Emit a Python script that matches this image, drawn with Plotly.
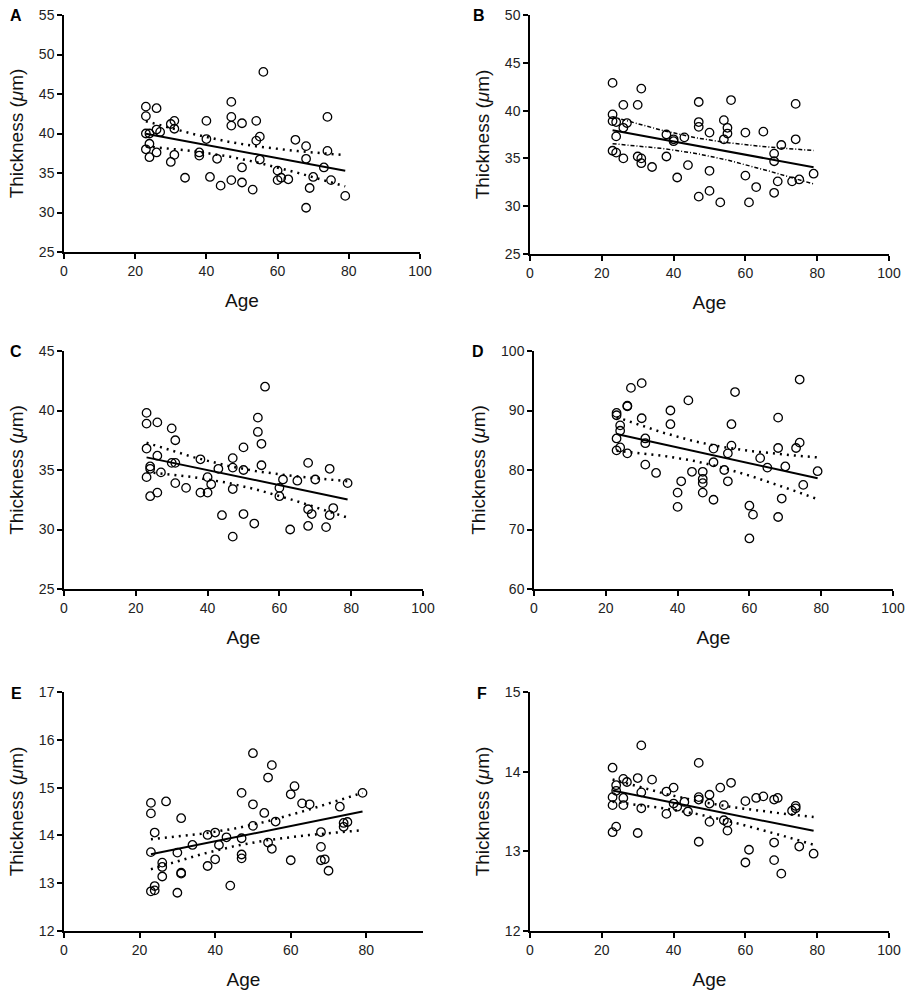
import numpy as np
import plotly.graph_objects as go

ages = [23, 23, 23, 23, 24, 24, 24, 26, 26, 26, 27, 30, 30, 31, 31, 31, 34, 38, 38, 40, 40, 41, 43, 44,
        47, 47, 47, 47, 50, 50, 50, 53, 54, 54, 55, 55, 56, 60, 60, 61, 63, 65, 68, 68, 68, 69, 70, 73,
        74, 74, 75, 79]

thick_A = [43.4, 42.2, 40.0, 38.0, 40.0, 38.7, 37.0, 43.2, 40.5, 37.6, 40.2, 41.2, 36.4, 41.6, 40.6, 37.3,
           34.4, 37.6, 37.2, 41.6, 39.3, 34.5, 36.8, 33.4, 44.0, 42.1, 41.0, 34.1, 41.3, 35.7, 33.8, 32.9,
           41.6, 39.1, 39.6, 36.7, 47.8, 35.3, 34.1, 34.4, 34.2, 39.2, 38.4, 36.8, 30.6, 33.1, 34.5, 35.7,
           42.1, 37.8, 34.1, 32.1]
thick_B = [42.9, 39.6, 38.9, 35.8, 38.8, 37.3, 35.6, 40.6, 38.2, 35.0, 38.7, 40.6, 35.2, 42.3, 35.0, 34.5,
           34.1, 37.5, 35.2, 37.0, 36.8, 33.0, 37.2, 34.3, 40.9, 38.8, 38.3, 31.0, 37.7, 33.7, 31.6, 30.4,
           39.0, 37.0, 38.2, 37.6, 41.1, 37.7, 33.2, 30.4, 32.0, 37.8, 35.5, 34.7, 31.4, 32.6, 36.4, 32.6,
           40.7, 37.0, 32.8, 33.4]
thick_C = [39.8, 38.9, 36.8, 34.4, 35.3, 35.1, 32.8, 39.0, 36.2, 33.1, 34.8, 38.5, 35.6, 37.5, 35.6, 33.9,
           33.5, 35.9, 33.1, 34.4, 33.1, 33.8, 35.1, 31.2, 36.0, 35.2, 33.4, 29.4, 36.9, 35.0, 31.3, 30.5,
           39.4, 38.2, 37.2, 35.4, 42.0, 33.5, 32.8, 34.2, 30.0, 34.1, 35.6, 31.7, 30.3, 31.3, 34.2, 30.2,
           35.1, 31.2, 31.8, 33.9]
thick_D = [89.6, 89.2, 85.3, 83.3, 87.5, 86.6, 83.8, 90.8, 90.7, 82.8, 93.8, 94.6, 88.7, 85.3, 84.5, 80.9,
           79.5, 90.0, 87.7, 76.2, 73.8, 78.1, 91.7, 79.7, 79.7, 78.5, 77.8, 76.2, 83.6, 81.3, 75.0, 80.0,
           82.8, 78.1, 87.7, 84.1, 93.1, 74.0, 68.5, 72.5, 82.0, 80.4, 88.8, 83.7, 72.1, 75.2, 80.6, 83.7,
           95.2, 84.6, 77.5, 79.8]
thick_E = [14.68, 14.46, 13.65, 12.83, 14.06, 12.94, 12.85, 13.43, 13.34, 13.14, 14.71, 13.64, 12.80,
           14.36, 13.22, 13.20, 13.80, 14.01, 13.36, 14.06, 13.50, 13.80, 13.96, 12.95, 14.89, 13.94,
           13.60, 13.52, 15.72, 14.65, 14.20, 14.47, 15.21, 13.85, 15.47, 13.72, 14.29, 14.86, 13.48,
           15.03, 14.67, 14.65, 14.07, 13.76, 13.48, 13.50, 13.26, 14.60, 14.26, 14.18, 14.28, 14.89]
thick_F = [14.05, 13.68, 13.58, 13.24, 13.83, 13.76, 13.31, 13.91, 13.67, 13.58, 13.87, 13.92, 13.23,
           14.33, 13.74, 13.54, 13.90, 13.75, 13.47, 13.80, 13.60, 13.56, 13.62, 13.50, 14.11, 13.68,
           13.65, 13.12, 13.71, 13.60, 13.37, 13.80, 13.58, 13.39, 13.36, 13.26, 13.86, 13.63, 12.86,
           13.02, 13.67, 13.69, 13.65, 13.11, 12.89, 13.67, 12.72, 13.51, 13.57, 13.54, 13.06, 12.97]

panel_labels = ["A", "B", "C", "D", "E", "F"]
series = [thick_A, thick_B, thick_C, thick_D, thick_E, thick_F]
y_ranges = [(25, 55), (25, 50), (25, 45), (60, 100), (12, 17), (12, 15)]
y_dtick = [5, 5, 5, 10, 1, 1]
x_ranges = [(0, 100), (0, 100), (0, 100), (0, 100), (0, 95), (0, 100)]

W, H = 922, 1000
# plot-area boxes in pixels: (left, right, top, bottom)
boxes = [(64, 420, 15, 252), (530, 889, 15, 254),
         (64, 423, 351, 589), (534, 893, 351, 589),
         (64, 423, 692, 931), (530, 889, 692, 931)]
label_pos = [(16, 15), (479, 15), (16, 351), (478, 351), (16, 693), (482, 693)]
ci_styles = [("2px,5px", 2.5), ("4px,2px,1px,2px", 1.5), ("2px,5px", 2.5),
             ("2px,5px", 2.5), ("2px,5px", 2.5), ("2px,5px", 2.5)]

FONT = "Liberation Sans, Arial, sans-serif"
T_CRIT = 2.009  # two-sided 95% t value, df = 50

fig = go.Figure()
layout = dict(width=W, height=H, margin=dict(l=0, r=0, t=0, b=0, autoexpand=False),
              paper_bgcolor="white", plot_bgcolor="white", showlegend=False,
              font=dict(family=FONT, color="#111"))
annotations = []

for i, (lab, yv) in enumerate(zip(panel_labels, series)):
    n = i + 1
    xa = "x" if n == 1 else f"x{n}"
    ya = "y" if n == 1 else f"y{n}"
    x = np.array(ages, dtype=float)
    y = np.array(yv, dtype=float)
    slope, icpt = np.polyfit(x, y, 1)
    resid = y - (slope * x + icpt)
    s = np.sqrt(np.sum(resid ** 2) / (len(x) - 2))
    xbar = x.mean()
    sxx = np.sum((x - xbar) ** 2)
    xf = np.linspace(x.min(), x.max(), 60)
    yf = slope * xf + icpt
    se = s * np.sqrt(1 / len(x) + (xf - xbar) ** 2 / sxx)

    fig.add_trace(go.Scatter(x=ages, y=yv, mode="markers", xaxis=xa, yaxis=ya,
                             marker=dict(symbol="circle-open", size=8.5, color="black",
                                         line=dict(width=1.3, color="black"))))
    fig.add_trace(go.Scatter(x=xf, y=yf, mode="lines", xaxis=xa, yaxis=ya,
                             line=dict(color="black", width=2)))
    dash, dw = ci_styles[i]
    for sign in (1, -1):
        fig.add_trace(go.Scatter(x=xf, y=yf + sign * T_CRIT * se, mode="lines", xaxis=xa, yaxis=ya,
                                 line=dict(color="black", width=dw, dash=dash)))

    l, r, t, b = boxes[i]
    xkey = "xaxis" if n == 1 else f"xaxis{n}"
    ykey = "yaxis" if n == 1 else f"yaxis{n}"
    layout[xkey] = dict(domain=[l / W, r / W], anchor=ya, range=list(x_ranges[i]),
                        automargin=False,
                        tickmode="linear", tick0=0, dtick=20,
                        showline=True, linecolor="black", linewidth=1.5,
                        ticks="outside", ticklen=5, tickwidth=1.5, tickcolor="black",
                        showgrid=False, zeroline=False,
                        tickfont=dict(size=14, family=FONT, color="#222"),
                        title=dict(text="Age", font=dict(size=19, family=FONT, color="#111"),
                                   standoff=16))
    layout[ykey] = dict(domain=[1 - b / H, 1 - t / H], anchor=xa, range=list(y_ranges[i]),
                        automargin=False,
                        tickmode="linear", tick0=y_ranges[i][0], dtick=y_dtick[i],
                        showline=True, linecolor="black", linewidth=1.5,
                        ticks="outside", ticklen=5, tickwidth=1.5, tickcolor="black",
                        showgrid=False, zeroline=False,
                        tickfont=dict(size=14, family=FONT, color="#222"),
                        title=dict(text="Thickness (<i>μ</i>m)",
                                   font=dict(size=19, family=FONT, color="#111"),
                                   standoff=10))
    lx, ly = label_pos[i]
    annotations.append(dict(text=f"<b>{lab}</b>", x=lx / W, y=1 - ly / H, xref="paper", yref="paper",
                            showarrow=False, xanchor="center", yanchor="middle",
                            font=dict(size=16, family=FONT, color="black")))

layout["annotations"] = annotations
fig.update_layout(**layout)
fig.write_html("out.html", config={"displayModeBar": False},
               post_script="document.body.style.margin='0';")
